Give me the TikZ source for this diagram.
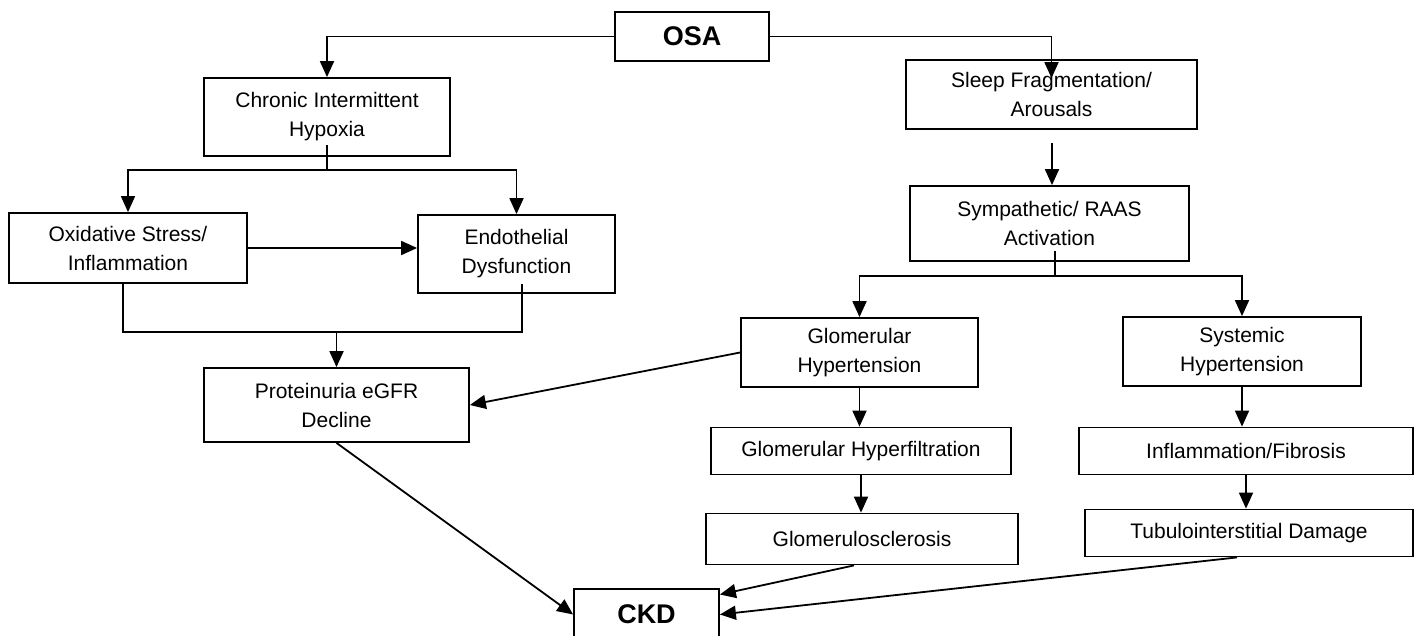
\documentclass[tikz,border=0pt]{standalone}
\usepackage{fontspec}
\setmainfont{Liberation Sans}
\usetikzlibrary{arrows.meta,calc}
\begin{document}
\begin{tikzpicture}[x=1pt,y=-1pt,
  box/.style={draw=black,line width=1.8pt,align=center,inner sep=0pt,
    font=\fontsize{21}{29}\selectfont},
  bigbox/.style={draw=black,line width=1.8pt,align=center,inner sep=0pt,
    font=\fontsize{27}{32}\selectfont\bfseries},
  conn/.style={line width=1.8pt},
  arr/.style={line width=1.8pt,-{Triangle[length=16pt,width=14pt]}}]
\useasboundingbox (0,0) rectangle (1424,635);
% nodes
\node[bigbox,minimum width=154pt,minimum height=49pt] (osa) at (692,36.5) {OSA};
\node[box,minimum width=246pt,minimum height=78pt] (chronic) at (327,117) {Chronic Intermittent\\Hypoxia};
\node[box,minimum width=238pt,minimum height=70pt] (oxid) at (128,248) {Oxidative Stress/\\Inflammation};
\node[box,minimum width=197pt,minimum height=78pt] (endo) at (516.5,254) {Endothelial\\Dysfunction};
\node[box,minimum width=265pt,minimum height=74pt] (prot) at (336.5,405) {Proteinuria eGFR\\Decline};
\node[bigbox,minimum width=145pt,minimum height=51pt] (ckd) at (646.5,614.5) {CKD};
\node[box,minimum width=291pt,minimum height=69pt] (sleep) at (1051.5,94.5) {Sleep Fragmentation/\\Arousals};
\node[box,minimum width=279pt,minimum height=75pt] (symp) at (1049.5,223.5) {Sympathetic/ RAAS\\Activation};
\node[box,minimum width=237pt,minimum height=69pt] (gh) at (859.5,352.5) {Glomerular\\Hypertension};
\node[box,minimum width=238pt,minimum height=69pt] (sh) at (1242,351.5) {Systemic\\Hypertension};
\node[box,minimum width=300pt,minimum height=47pt] (ghf) at (861,451) {Glomerular Hyperfiltration};
\node[box,minimum width=334pt,minimum height=47pt] (inf) at (1246,451) {Inflammation/Fibrosis};
\node[box,minimum width=312pt,minimum height=51pt] (gs) at (862,539) {Glomerulosclerosis};
\node[box,minimum width=328pt,minimum height=47pt] (tub) at (1249,533) {Tubulointerstitial Damage};
% junction coordinates
\coordinate (cj) at (327,170);
\coordinate (jl) at (123,332);
\coordinate (jr) at (522,332);
\coordinate (jm) at (336.5,332);
\coordinate (sj) at (1055,276);
\coordinate (sx) at (1052,143);
% connectors
\draw[arr] (osa.west) -| (chronic.north);
\draw[arr] (osa.east) -| ($(sleep.north)+(0,19)$);
\draw[conn] ($(chronic.south)+(0,-12)$) -- (cj);
\draw[arr] (cj) -| (oxid.north);
\draw[arr] (cj) -| (endo.north);
\draw[arr] (oxid.east) -- (oxid.east -| endo.west);
\draw[conn] ($(oxid.south -| jl)+(0,-1)$) -- (jl) -- (jr) -- ($(jr |- endo.south)+(0,-10)$);
\draw[arr] (jm) -- (prot.north);
\draw[arr] (gh.west) -- (prot.east);
\draw[arr] (prot.south) -- (ckd.west);
\draw[arr] (sx) -- (sx |- symp.north);
\draw[conn] ($(sj |- symp.south)+(0,-11)$) -- (sj);
\draw[arr] (sj) -| (gh.north);
\draw[arr] (sj) -| (sh.north);
\draw[arr] (gh.south) -- (gh.south |- ghf.north);
\draw[arr] (ghf.south) -- (ghf.south |- gs.north);
\draw[arr] (sh.south) -- (sh.south |- inf.north);
\draw[arr] (inf.south) -- (inf.south |- tub.north);
\draw[arr] ($(gs.south)+(-8,0)$) -- ($(ckd.east)+(0,-20)$);
\draw[arr] ($(tub.south)+(-12,0)$) -- (ckd.east);
\end{tikzpicture}
\end{document}
